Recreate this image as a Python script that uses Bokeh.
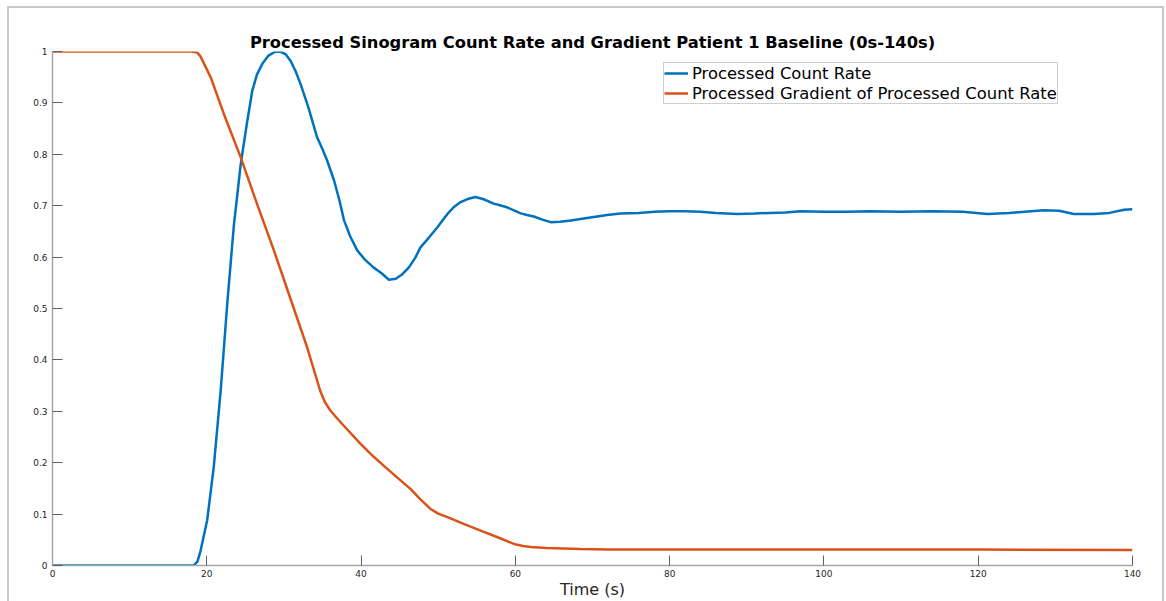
from bokeh.plotting import figure
from bokeh.embed import file_html
from bokeh.resources import INLINE
from bokeh.models import FixedTicker, Range1d, Legend, LegendItem

# ---- data ----
count_x = [0, 18.3, 18.8, 19.2, 20.05, 20.9, 21.8, 22.65, 23.5, 24.4, 25.2, 25.9, 26.5, 27.2,
           28.0, 28.8, 29.5, 30.2, 30.85, 31.5, 32.15, 33.2, 34.3, 35.0, 35.6, 36.5, 37.2, 37.8,
           38.6, 39.5, 40.5, 41.6, 42.7, 43.6, 44.5, 45.3, 46.2, 47.0, 47.7, 48.8, 49.9, 50.6,
           51.2, 52.0, 52.9, 53.8, 54.8, 55.8, 57.2, 58.0, 58.9, 59.8, 60.7, 61.5, 62.4, 63.5,
           64.6, 65.8, 67.2, 69.3, 71.9, 73.6, 76, 78, 80, 82, 84, 86, 88.8, 91, 93, 95, 97,
           100, 103, 106, 110, 114, 118, 121.2, 124, 126, 128.5, 130.5, 132.4, 135, 137, 138.9, 140]
count_y = [0, 0, 0.008, 0.029, 0.088, 0.191, 0.340, 0.509, 0.66, 0.781, 0.86, 0.924, 0.955, 0.976,
           0.992, 0.999, 1.0, 0.995, 0.982, 0.962, 0.937, 0.89, 0.833, 0.81, 0.788, 0.749, 0.71, 0.671,
           0.64, 0.613, 0.595, 0.580, 0.568, 0.556, 0.558, 0.566, 0.58, 0.598, 0.619, 0.638, 0.658, 0.672,
           0.684, 0.697, 0.707, 0.713, 0.717, 0.713, 0.704, 0.701, 0.697, 0.691, 0.685, 0.682, 0.679, 0.673,
           0.668, 0.669, 0.671, 0.676, 0.682, 0.685, 0.686, 0.688, 0.689, 0.689, 0.688, 0.686, 0.684, 0.685,
           0.686, 0.687, 0.689, 0.688, 0.688, 0.689, 0.688, 0.689, 0.688, 0.684, 0.686, 0.688, 0.691, 0.690,
           0.684, 0.684, 0.686, 0.692, 0.693]

grad_x = [0, 18.0, 18.76, 19.2, 20.5, 22.2, 24.4, 26.5, 28.7, 30.85, 33.0, 34.0, 34.7, 35.3, 36.0,
          36.8, 38.0, 39.9, 41.6, 43.4, 45.0, 46.4, 47.6, 49.0, 50.0, 51.2, 53.3, 55.5, 57.7, 59.8,
          61.0, 62.0, 64.0, 68.4, 72, 80, 100, 120, 140]
grad_y = [1, 1, 0.998, 0.99, 0.95, 0.879, 0.794, 0.704, 0.613, 0.519, 0.425, 0.375, 0.340, 0.318, 0.302,
          0.288, 0.268, 0.237, 0.212, 0.188, 0.167, 0.149, 0.13, 0.110, 0.101, 0.094, 0.081, 0.068, 0.055,
          0.042, 0.038, 0.036, 0.034, 0.032, 0.031, 0.031, 0.031, 0.031, 0.030]

x_ticks = [0, 20, 40, 60, 80, 100, 120, 140]
y_ticks = [0, 0.1, 0.2, 0.3, 0.4, 0.5, 0.6, 0.7, 0.8, 0.9, 1.0]
y_tick_labels = ["0", "0.1", "0.2", "0.3", "0.4", "0.5", "0.6", "0.7", "0.8", "0.9", "1"]

title_text = "Processed Sinogram Count Rate and Gradient Patient 1 Baseline (0s-140s)"
series_names = ["Processed Count Rate", "Processed Gradient of Processed Count Rate"]

FONT = "DejaVu Sans"
EDGE = "#c8c8c8"

p = figure(width=1166, height=601, output_backend="svg", toolbar_location=None,
           x_range=Range1d(0, 140), y_range=Range1d(0, 1),
           min_border_left=52, min_border_right=34, min_border_top=51, min_border_bottom=36)

p.title.text = title_text
p.title.align = "center"
p.title.text_font = FONT
p.title.text_font_size = "16.3px"
p.title.text_font_style = "bold"
p.title.text_color = "#000000"
p.title.offset = 0
p.title.standoff = 0

p.outline_line_color = None
p.xgrid.visible = False
p.ygrid.visible = False
p.background_fill_color = "white"
p.border_fill_alpha = 0

# outer window frame drawn behind the (transparent) canvas border
p.styles = {
    "background-color": "white",
    "background-image": (f"linear-gradient({EDGE},{EDGE}), linear-gradient({EDGE},{EDGE}), "
                         f"linear-gradient({EDGE},{EDGE})"),
    "background-size": "2px 100%, 1156px 2px, 2px 100%",
    "background-position": "7px 6px, 7px 6px, 1162px 6px",
    "background-repeat": "no-repeat",
}

r1 = p.line(count_x, count_y, line_color="#0072BD", line_width=2.5)
r2 = p.line(grad_x, grad_y, line_color="#D95319", line_width=2.5)

for ax in (p.xaxis[0], p.yaxis[0]):
    ax.axis_line_color = "#a6a6a6"
    ax.axis_line_width = 1.5
    ax.major_tick_line_color = "#606060"
    ax.major_tick_in = 10
    ax.major_tick_out = 0
    ax.minor_tick_line_color = None
    ax.major_label_text_font = FONT
    ax.major_label_text_font_size = "9px"
    ax.major_label_text_color = "#262626"

p.xaxis[0].ticker = FixedTicker(ticks=x_ticks)
p.yaxis[0].ticker = FixedTicker(ticks=y_ticks)
p.yaxis[0].major_label_overrides = {t: l for t, l in zip(y_ticks, y_tick_labels)}
p.xaxis[0].major_label_standoff = 4
p.yaxis[0].major_label_standoff = 5

p.xaxis[0].axis_label = "Time (s)"
p.xaxis[0].axis_label_text_font = FONT
p.xaxis[0].axis_label_text_font_size = "16px"
p.xaxis[0].axis_label_text_font_style = "normal"
p.xaxis[0].axis_label_text_color = "#262626"
p.xaxis[0].axis_label_standoff = 0

legend = Legend(items=[LegendItem(label=series_names[0], renderers=[r1]),
                       LegendItem(label=series_names[1], renderers=[r2])],
                location=(611, 461))
legend.label_text_font = FONT
legend.label_text_font_size = "16.4px"
legend.label_text_color = "#000000"
legend.label_height = 20
legend.label_standoff = 4
legend.glyph_width = 24
legend.glyph_height = 20
legend.spacing = 0
legend.padding = 0
legend.margin = 0
legend.border_line_color = "#a0a0a0"
legend.border_line_width = 1
legend.background_fill_color = "white"
legend.background_fill_alpha = 1
p.add_layout(legend, "center")

open("out.html", "w").write(file_html(p, INLINE))
